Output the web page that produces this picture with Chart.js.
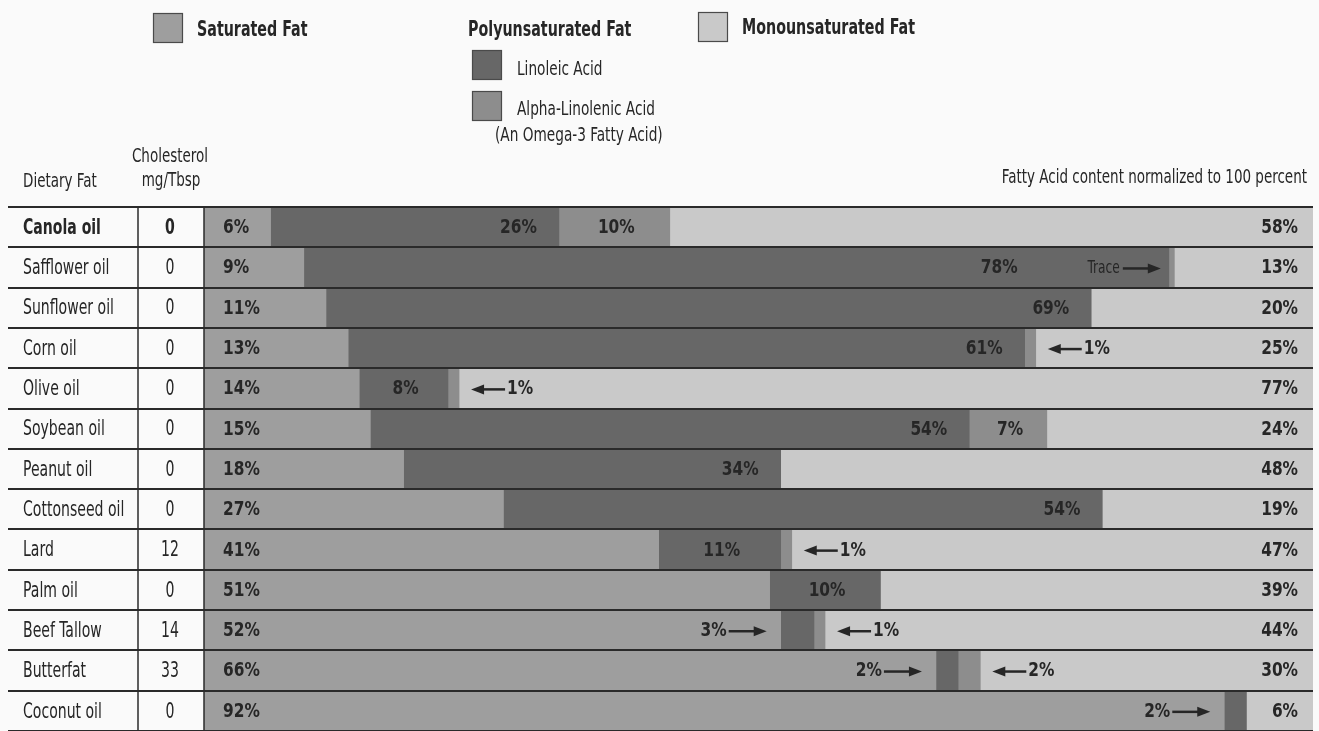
<!DOCTYPE html>
<html>
<head>
<meta charset="utf-8">
<script src="https://cdn.jsdelivr.net/npm/chart.js@4/dist/chart.umd.min.js"></script>
<style>
  html, body { margin: 0; padding: 0; background: #fafafa; }
  #wrap { position: relative; width: 1319px; height: 731px; }
</style>
</head>
<body>
<div id="wrap"><canvas id="c" width="1319" height="731"></canvas></div>
<script>
// Fatty-acid make-up of common dietary fats (percent, normalized to 100)
const categories = ['Canola oil', 'Safflower oil', 'Sunflower oil', 'Corn oil', 'Olive oil',
  'Soybean oil', 'Peanut oil', 'Cottonseed oil', 'Lard', 'Palm oil', 'Beef Tallow',
  'Butterfat', 'Coconut oil'];
const cholesterol = [0, 0, 0, 0, 0, 0, 0, 0, 12, 0, 14, 33, 0];
const TRACE = 0.5;
const saturated      = [6, 9, 11, 13, 14, 15, 18, 27, 41, 51, 52, 66, 92];
const linoleic       = [26, 78, 69, 61, 8, 54, 34, 54, 11, 10, 3, 2, 2];
const alphaLinolenic = [10, TRACE, null, 1, 1, 7, null, null, 1, null, 1, 2, null];
const monounsaturated = [58, 13, 20, 25, 77, 24, 48, 19, 47, 39, 44, 30, 6];
const highlightRow = 'Canola oil';

const FAMILY = '"DejaVu Sans Condensed", "DejaVu Sans", sans-serif';
const INK = '#262626';

const COLORS = {
  sat: '#9e9e9e',
  lin: '#676767',
  ala: '#8d8d8d',
  mono: '#c9c9c9'
};

function pct(v) { return v === TRACE ? 'Trace' : v + '%'; }

// condensed text: the face is squeezed horizontally by sx
function txt(ctx, s, x, y, align, font, sx) {
  ctx.save();
  ctx.font = font;
  ctx.textAlign = align;
  ctx.textBaseline = 'middle';
  ctx.fillStyle = INK;
  ctx.translate(x, y);
  ctx.scale(sx, 1);
  ctx.fillText(s, 0, 0);
  ctx.restore();
}
function tw(ctx, s, font, sx) {
  ctx.save(); ctx.font = font;
  const w = ctx.measureText(s).width * sx;
  ctx.restore();
  return w;
}

function arrow(ctx, x1, x2, y) {
  const dir = Math.sign(x2 - x1);
  ctx.save();
  ctx.strokeStyle = INK; ctx.fillStyle = INK; ctx.lineWidth = 2.5;
  ctx.beginPath(); ctx.moveTo(x1, y); ctx.lineTo(x2 - dir * 8, y); ctx.stroke();
  ctx.beginPath();
  ctx.moveTo(x2, y); ctx.lineTo(x2 - dir * 13, y - 5); ctx.lineTo(x2 - dir * 13, y + 5);
  ctx.closePath(); ctx.fill();
  ctx.restore();
}

const F_LEG_B = 'bold 21px ' + FAMILY, SX_LEG_B = 0.755;
const F_LEG = '19px ' + FAMILY, SX_LEG = 0.8;
const F_HEAD = '20px ' + FAMILY, SX_HEAD = 0.75;
const F_ROW = '22px ' + FAMILY, F_ROW_B = 'bold 22px ' + FAMILY, SX_ROW = 0.71;
const F_VAL = 'bold 19px ' + FAMILY, SX_VAL = 0.9;
const F_TRACE = '17px ' + FAMILY, SX_TRACE = 0.8;

const fatTable = {
  id: 'fatTable',
  beforeDraw(chart) {
    const ctx = chart.ctx;
    ctx.save();
    ctx.fillStyle = '#fafafa';
    ctx.fillRect(0, 0, chart.width, chart.height);
    ctx.restore();
  },
  afterDatasetsDraw(chart) {
    const ctx = chart.ctx;
    const area = chart.chartArea;
    const yScale = chart.scales.y;
    const ds = chart.data.datasets;
    const n = categories.length;
    const rowH = (area.bottom - area.top) / n;

    ctx.save();

    // legend
    const box = (x, y, c) => {
      ctx.fillStyle = c; ctx.fillRect(x, y, 30, 30);
      ctx.strokeStyle = '#4a4a4a'; ctx.lineWidth = 1.2; ctx.strokeRect(x + 0.5, y + 0.5, 29, 29);
    };
    box(153, 13, ds[0].backgroundColor);
    txt(ctx, ds[0].label, 197, 31, 'left', F_LEG_B, SX_LEG_B);
    txt(ctx, 'Polyunsaturated Fat', 468, 31, 'left', F_LEG_B, SX_LEG_B);
    box(472, 50, ds[1].backgroundColor);
    txt(ctx, ds[1].label, 517, 70, 'left', F_LEG, SX_LEG);
    box(472, 91, ds[2].backgroundColor);
    txt(ctx, ds[2].label, 517, 110, 'left', F_LEG, SX_LEG);
    txt(ctx, '(An Omega-3 Fatty Acid)', 495, 136, 'left', F_LEG, SX_LEG);
    box(698, 12, ds[3].backgroundColor);
    txt(ctx, ds[3].label, 742, 29, 'left', F_LEG_B, SX_LEG_B);

    // column headers
    txt(ctx, 'Dietary Fat', 23, 182, 'left', F_HEAD, SX_HEAD);
    txt(ctx, 'Cholesterol', 170, 157, 'center', F_HEAD, SX_HEAD);
    txt(ctx, 'mg/Tbsp', 171, 181, 'center', F_HEAD, SX_HEAD);
    txt(ctx, 'Fatty Acid content normalized to 100 percent', 1307, 178, 'right', F_HEAD, SX_HEAD);

    // table rows
    categories.forEach((name, i) => {
      const cy = yScale.getPixelForValue(i) + 1;
      const strong = name === highlightRow;
      txt(ctx, name, 23, cy, 'left', strong ? F_ROW_B : F_ROW, SX_ROW);
      txt(ctx, String(cholesterol[i]), 170, cy, 'center', strong ? F_ROW_B : F_ROW, SX_ROW);
    });

    // segment labels
    const seg = (d, i) => {
      const el = chart.getDatasetMeta(d).data[i];
      const p = el.getProps(['x', 'base', 'y'], true);
      return { a: Math.min(p.x, p.base), b: Math.max(p.x, p.base) };
    };
    categories.forEach((name, i) => {
      const cy = yScale.getPixelForValue(i) + 1;
      txt(ctx, pct(saturated[i]), area.left + 19, cy, 'left', F_VAL, SX_VAL);
      txt(ctx, pct(monounsaturated[i]), area.right - 15, cy, 'right', F_VAL, SX_VAL);

      const L = seg(1, i);
      const A = alphaLinolenic[i] != null ? seg(2, i) : null;
      let linRightLimit = L.b - 22;

      if (A) {
        const w = A.b - A.a;
        const t = pct(alphaLinolenic[i]);
        if (w >= 40) {
          txt(ctx, t, (A.a + A.b) / 2 + 2, cy, 'center', F_VAL, SX_VAL);
        } else if (alphaLinolenic[i] === TRACE) {
          // trace amount: label sits inside the linoleic segment, pointing right
          const end = A.a - 8;
          arrow(ctx, end - 38, end, cy);
          txt(ctx, t, end - 41, cy, 'right', F_TRACE, SX_TRACE);
          linRightLimit = end - 41 - tw(ctx, t, F_TRACE, SX_TRACE) - 70;
        } else {
          const start = A.b + 12;
          arrow(ctx, start + 34, start, cy);
          txt(ctx, t, start + 36, cy, 'left', F_VAL, SX_VAL);
        }
      }

      const lw = L.b - L.a;
      const lt = pct(linoleic[i]);
      if (lw < 40) {
        const end = L.a - 14;
        arrow(ctx, end - 38, end, cy);
        txt(ctx, lt, end - 40, cy, 'right', F_VAL, SX_VAL);
      } else if (linoleic[i] >= 20) {
        txt(ctx, lt, linRightLimit, cy, 'right', F_VAL, SX_VAL);
      } else {
        txt(ctx, lt, (L.a + L.b) / 2 + 2, cy, 'center', F_VAL, SX_VAL);
      }
    });

    // row rules
    ctx.strokeStyle = '#2a2a2a';
    ctx.lineWidth = 2;
    for (let k = 0; k <= n; k++) {
      const yy = Math.round(area.top + k * rowH);
      ctx.beginPath(); ctx.moveTo(8, yy); ctx.lineTo(area.right, yy); ctx.stroke();
    }
    // column rules
    ctx.lineWidth = 1.5;
    [138, area.left].forEach(x => {
      ctx.beginPath(); ctx.moveTo(x, area.top); ctx.lineTo(x, area.bottom); ctx.stroke();
    });
    ctx.restore();
  }
};

new Chart(document.getElementById('c'), {
  type: 'bar',
  data: {
    labels: categories,
    datasets: [
      { label: 'Saturated Fat', data: saturated, backgroundColor: COLORS.sat },
      { label: 'Linoleic Acid', data: linoleic, backgroundColor: COLORS.lin },
      { label: 'Alpha-Linolenic Acid', data: alphaLinolenic, backgroundColor: COLORS.ala },
      { label: 'Monounsaturated Fat', data: monounsaturated, backgroundColor: COLORS.mono }
    ]
  },
  options: {
    indexAxis: 'y',
    responsive: false,
    animation: false,
    devicePixelRatio: 1,
    layout: { padding: { left: 204, top: 207, right: 6, bottom: 0 } },
    datasets: { bar: { categoryPercentage: 1, barPercentage: 1, borderWidth: 0 } },
    scales: {
      x: { stacked: true, min: 0, max: 100, display: false },
      y: { stacked: true, display: false }
    },
    plugins: { legend: { display: false }, tooltip: { enabled: false } }
  },
  plugins: [fatTable]
});
</script>
</body>
</html>
